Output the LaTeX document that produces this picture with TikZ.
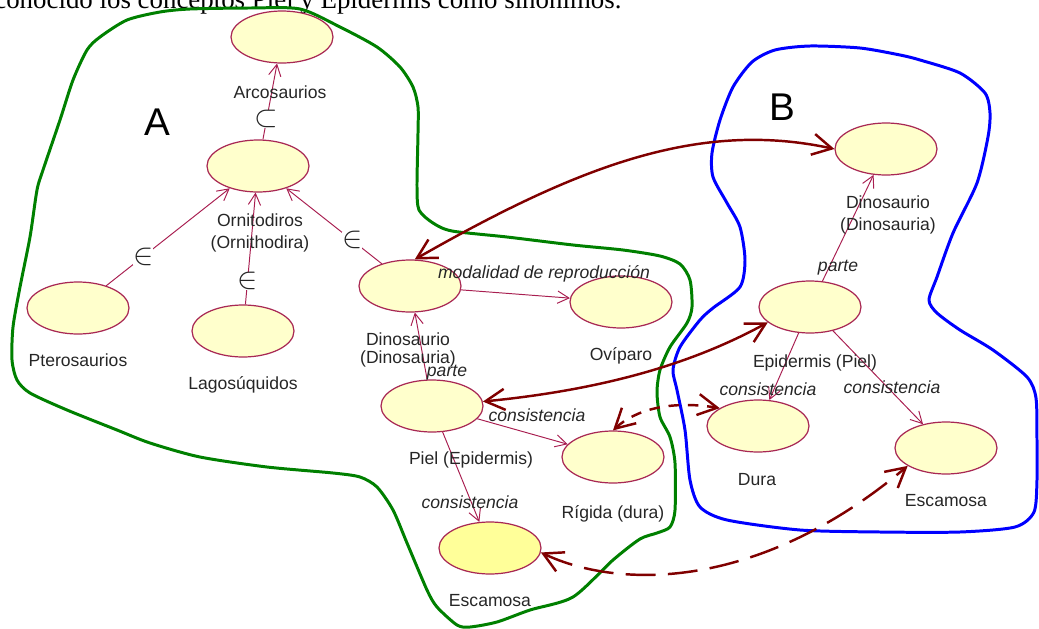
\documentclass[tikz,border=0pt]{standalone}
\usepackage{fontspec}
\setmainfont{Liberation Sans}
\newfontfamily\bodyserif{Liberation Serif}
\usetikzlibrary{shapes.geometric,arrows.meta}
\definecolor{conceptfill}{RGB}{255,255,204}
\definecolor{conceptbright}{RGB}{255,255,153}
\definecolor{conceptline}{RGB}{168,40,84}
\definecolor{relline}{RGB}{168,30,80}
\definecolor{linkred}{RGB}{128,0,0}
\definecolor{groupgreen}{RGB}{0,128,0}
\definecolor{groupblue}{RGB}{0,0,255}
\begin{document}
\begin{tikzpicture}[x=0.02cm,y=-0.02cm,
  concept/.style={ellipse, draw=conceptline, fill=conceptfill, line width=0.7pt,
    minimum width=2.04cm, minimum height=1.04cm, inner sep=0pt},
  conceptlabel/.style={font=\fontsize{10}{12.5}\selectfont, text=black!85, align=center, inner sep=0pt},
  rellabel/.style={font=\fontsize{10}{12}\selectfont\itshape, text=black!85, inner sep=0pt},
  rel/.style={draw=relline, line width=0.55pt, -{Straight Barb[length=6.5pt,width=7pt]}},
  link/.style={draw=linkred, line width=1.4pt,
    {Straight Barb[length=11pt,width=12pt]}-{Straight Barb[length=11pt,width=12pt]}},
  member/.style={font=\fontsize{17.28}{17.28}\selectfont, fill=white, inner sep=0pt, text=black!85},
  blobline/.style={line width=1.7pt, line join=round}]
\useasboundingbox (0,0) rectangle (1039,629);

% sentence of the surrounding text, cut by the top edge
\node[font=\bodyserif\fontsize{15.3}{18}\selectfont, anchor=base west, inner sep=0pt]
  (sentence) at (-6,8) {conocido los conceptos Piel y Epidermis como sinónimos.};

% group outlines
\draw[blobline, draw=groupgreen] plot[smooth cycle, tension=0.45] coordinates {
  (100,37) (127,20) (160,12) (190,9) (250,8) (300,9) (340,27) (377,47) (400,67)
  (413,87) (418,107) (418,133) (417,187) (419,210) (433,223) (452,231) (507,237)
  (573,245) (623,250) (660,256) (680,264) (690,280) (692,307) (687,323) (670,347)
  (660,370) (657,392) (660,417) (670,437) (675,463) (675,510) (670,527) (657,533)
  (640,539) (613,560) (573,597) (530,610) (497,622) (470,627) (457,625) (437,607)
  (427,590) (407,543) (393,510) (377,487) (360,477) (333,473) (267,467) (200,457)
  (150,443) (117,430) (67,410) (30,393) (17,380) (12,360) (13,327) (20,287)
  (30,237) (37,190) (43,170) (60,120) (73,80) (87,50)};
\draw[blobline, draw=groupblue] plot[smooth cycle, tension=0.45] coordinates {
  (752,62) (775,50) (810,46) (860,48) (900,55) (920,60) (960,73) (985,93) (990,113)
  (988,137) (977,183) (953,233) (937,277) (929,300) (937,313) (960,330) (993,350)
  (1027,377) (1036,398) (1037,440) (1037,480) (1034,512) (1015,527) (960,532)
  (880,532) (800,530) (727,520) (700,507) (690,480) (685,430) (677,390) (673,370)
  (680,347) (700,320) (713,308) (740,287) (745,260) (740,227) (727,203) (713,177)
  (712,153) (720,120) (733,87)};

\node[font=\fontsize{22}{22}\selectfont, anchor=base, inner sep=0pt] (groupA) at (157,135) {A};
\node[font=\fontsize{22}{22}\selectfont, anchor=base, inner sep=0pt] (groupB) at (782,120) {B};

% concepts
\node[concept] (arco) at (282,37) {};
\node[concept] (orni) at (258,166) {};
\node[concept] (ptero) at (78,308) {};
\node[concept] (lago) at (243,331) {};
\node[concept] (dinoA) at (410,286) {};
\node[concept] (ovi) at (621,302) {};
\node[concept] (pielA) at (432,406) {};
\node[concept] (rigida) at (613,457) {};
\node[concept, fill=conceptbright] (escA) at (490,548) {};
\node[concept] (dinoB) at (886,149) {};
\node[concept] (epiB) at (810,307) {};
\node[concept] (dura) at (758,426) {};
\node[concept] (escB) at (946,448) {};

% relations inside the groups
\draw[rel] (orni) -- node[member, pos=0.27] (subArco) {$\subset$} (arco);
\draw[rel] (ptero) -- node[member, pos=0.30] (inPtero) {$\in$} (orni);
\draw[rel] (lago) -- node[member, pos=0.21] (inLago) {$\in$} (orni);
\draw[rel] (dinoA) -- node[member, pos=0.31] (inDino) {$\in$} (orni);
\draw[rel] (dinoA) -- (ovi);
\draw[rel] (pielA) -- (dinoA);
\draw[rel] (pielA) -- (rigida);
\draw[rel] (pielA) -- (escA);
\draw[rel] (epiB) -- (dinoB);
\draw[rel] (epiB) -- (dura);
\draw[rel] (epiB) -- (escB);

% concept names
\node[conceptlabel, text height=7.2pt, text depth=0pt] (arcoT) at (280,92) {Arcosaurios};
\node[conceptlabel] (orniT) at (260,233) {Ornitodiros\\(Ornithodira)};
\node[conceptlabel, text height=7.2pt, text depth=0pt] (pteroT) at (78,360) {Pterosaurios};
\node[conceptlabel, text height=7.2pt, text depth=0pt] (lagoT) at (243,383) {Lagosúquidos};
\node[conceptlabel, font=\fontsize{10}{10.2}\selectfont] (dinoAT) at (408,350) {Dinosaurio\\(Dinosauria)};
\node[conceptlabel, text height=7.2pt, text depth=0pt] (oviT) at (621,354) {Ovíparo};
\node[conceptlabel, text height=7.2pt, text depth=0pt] (pielAT) at (471,458) {Piel (Epidermis)};
\node[conceptlabel, text height=7.2pt, text depth=0pt] (rigidaT) at (613,512) {Rígida (dura)};
\node[conceptlabel, text height=7.2pt, text depth=0pt] (escAT) at (490,600) {Escamosa};
\node[conceptlabel] (dinoBT) at (888,215) {Dinosaurio\\(Dinosauria)};
\node[conceptlabel, text height=7.2pt, text depth=0pt] (epiBT) at (815,361) {Epidermis (Piel)};
\node[conceptlabel, text height=7.2pt, text depth=0pt] (duraT) at (757,479) {Dura};
\node[conceptlabel, text height=7.2pt, text depth=0pt] (escBT) at (946,500) {Escamosa};

% relation names
\node[rellabel, text height=7.2pt, text depth=0pt] (modRel) at (544,272) {modalidad de reproducción};
\node[rellabel, text height=7.2pt, text depth=0pt] (parteA) at (447,370) {parte};
\node[rellabel, text height=7.2pt, text depth=0pt] (consRig) at (537,415) {consistencia};
\node[rellabel, text height=7.2pt, text depth=0pt] (consEscA) at (470,502) {consistencia};
\node[rellabel, text height=7.2pt, text depth=0pt] (parteB) at (838,265) {parte};
\node[rellabel, text height=7.2pt, text depth=0pt] (consDura) at (768,389) {consistencia};
\node[rellabel, text height=7.2pt, text depth=0pt] (consEscB) at (892,387) {consistencia};

% correspondences between the two groups
\draw[link] (dinoA.80) .. controls (580,165) and (700,120) .. (dinoB.west);
\draw[link] (pielA.5) .. controls (600,390) and (690,365) .. (epiB.200);
\draw[link, dash pattern=on 6pt off 5pt] (rigida.north) .. controls (635,410) and (670,400) .. (dura.155);
\draw[link, dash pattern=on 17pt off 7pt] (escA.355) .. controls (620,590) and (760,590) .. (escB.205);
\end{tikzpicture}
\end{document}
